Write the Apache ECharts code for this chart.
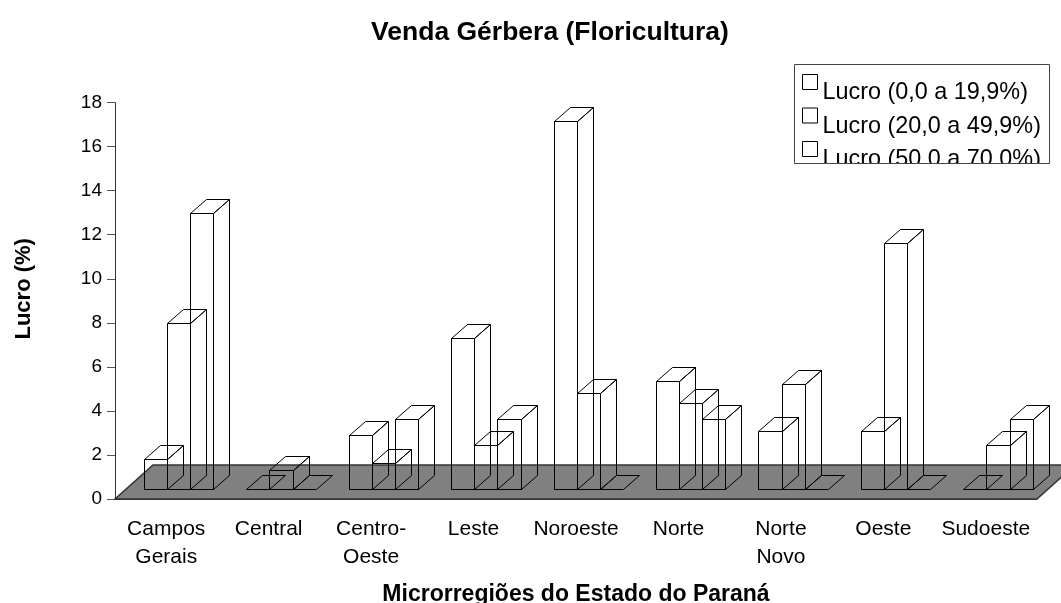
<!DOCTYPE html>
<html>
<head>
<meta charset="utf-8">
<style>html,body{margin:0;padding:0;background:#fff}#chart{width:1061px;height:603px}</style>
<script src="https://cdn.jsdelivr.net/npm/echarts@6/dist/echarts.min.js"></script>
</head>
<body>
<div id="chart"></div>
<script>
var categories = ['Campos\nGerais', 'Central', 'Centro-\nOeste', 'Leste', 'Noroeste', 'Norte', 'Norte\nNovo', 'Oeste', 'Sudoeste'];
var lucroBaixo = [1.36, 0, 2.45, 6.85, 16.73, 4.9, 2.63, 2.63, 0];
var lucroMedio = [7.53, 0.86, 1.18, 2.0, 4.35, 3.9, 4.76, 11.16, 2.0];
var lucroAlto = [12.52, 0, 3.17, 3.17, 0, 3.17, 0, 0, 3.17];
var seriesNames = ['Lucro (0,0 a 19,9%)', 'Lucro (20,0 a 49,9%)', 'Lucro (50,0 a 70,0%)'];

var fontName = '"Liberation Sans", Arial, sans-serif';

function crisp(v) {
    return Math.round(v) + 0.5;
}

function renderFloor(params, api) {
    var c = params.coordSys;
    var b = c.y + c.height;
    return {
        type: 'polygon',
        shape: {points: [[c.x, b], [c.x + c.width, b], [c.x + c.width + 38, b - 34], [c.x + 38, b - 34]]},
        style: {fill: '#808080', stroke: '#333', lineWidth: 1.5}
    };
}

function renderBar(params, api) {
    var idx = api.value(0);
    var centre = api.coord([idx, 0]);
    var top = api.coord([idx, api.value(1)]);
    var catW = api.size([1, 0])[0];
    var w = catW * 0.226;
    // seriesIndex starts at 1 because the floor is series 0
    var x0 = crisp(centre[0] + catW * 0.12 - 1.5 * w + (params.seriesIndex - 1) * w);
    var x1 = crisp(centre[0] + catW * 0.12 - 1.5 * w + params.seriesIndex * w);
    var yb = crisp(centre[1] - 10);
    var yt = crisp(top[1] - 10);
    var dx = 16, dy = -14;
    var line = {fill: 'none', stroke: '#000', lineWidth: 1};
    var faces = [
        {type: 'polygon', shape: {points: [[x0, yt], [x0 + dx, yt + dy], [x1 + dx, yt + dy], [x1, yt]]}, style: line}
    ];
    if (yb > yt) {
        faces.push({type: 'polygon', shape: {points: [[x0, yb], [x1, yb], [x1, yt], [x0, yt]]}, style: line});
        faces.push({type: 'polygon', shape: {points: [[x1, yb], [x1 + dx, yb + dy], [x1 + dx, yt + dy], [x1, yt]]}, style: line});
    }
    return {type: 'group', children: faces};
}

function barData(values) {
    var out = [];
    for (var i = 0; i < values.length; i++) {
        out.push([i, values[i]]);
    }
    return out;
}

function barSeries(name, values) {
    return {
        name: name,
        type: 'custom',
        renderItem: renderBar,
        itemStyle: {color: '#fff', borderColor: '#000', borderWidth: 1},
        encode: {x: 0, y: 1},
        data: barData(values),
        z: 3
    };
}

var option = {
    animation: false,
    backgroundColor: '#fff',
    textStyle: {fontFamily: fontName, color: '#000'},
    title: {
        text: 'Venda Gérbera (Floricultura)',
        left: 545,
        top: 14,
        textAlign: 'center',
        textStyle: {fontFamily: fontName, fontSize: 26.5, fontWeight: 'bold', color: '#000'}
    },
    legend: {
        orient: 'vertical',
        left: 802,
        top: 74,
        padding: 0,
        itemWidth: 15,
        itemHeight: 15,
        itemGap: 3,
        icon: 'rect',
        data: seriesNames,
        itemStyle: {color: '#fff', borderColor: '#000', borderWidth: 1},
        formatter: '{t|{name}}',
        textStyle: {
            rich: {
                t: {fontFamily: fontName, fontSize: 23.4, color: '#000', padding: [22, 0, 0, 0]}
            }
        }
    },
    grid: {left: 115, right: 24, top: 102.6, bottom: 104, outerBoundsMode: 'none'},
    xAxis: {
        type: 'category',
        data: categories,
        axisLine: {lineStyle: {color: '#333', width: 1}},
        axisTick: {length: 7, lineStyle: {color: '#555'}},
        axisLabel: {interval: 0, color: '#000', fontFamily: fontName, fontSize: 21, lineHeight: 28, margin: 16},
        name: 'Microrregiões do Estado do Paraná',
        nameLocation: 'middle',
        nameGap: 84,
        nameTextStyle: {fontFamily: fontName, fontSize: 23, fontWeight: 'bold', color: '#000'}
    },
    yAxis: {
        type: 'value',
        min: 0,
        max: 18,
        interval: 2,
        splitLine: {show: false},
        axisLine: {show: true, lineStyle: {color: '#333', width: 1}},
        axisTick: {show: true, length: 8, lineStyle: {color: '#555'}},
        axisLabel: {color: '#000', fontFamily: fontName, fontSize: 19, margin: 13},
        name: 'Lucro (%)',
        nameLocation: 'middle',
        nameGap: 80,
        nameTextStyle: {fontFamily: fontName, fontSize: 22, fontWeight: 'bold', color: '#000', padding: [0, 0, 0, 24]}
    },
    series: [
        {type: 'custom', renderItem: renderFloor, data: [[0, 0]], encode: {x: 0, y: 1}, silent: true, z: 1},
        barSeries(seriesNames[0], lucroBaixo),
        barSeries(seriesNames[1], lucroMedio),
        barSeries(seriesNames[2], lucroAlto)
    ],
    graphic: [
        {type: 'rect', z: 100, shape: {x: 790, y: 163.5, width: 271, height: 22}, style: {fill: '#fff'}},
        {type: 'rect', z: 101, shape: {x: 794.5, y: 64.5, width: 255, height: 99}, style: {fill: 'none', stroke: '#444', lineWidth: 1}}
    ]
};

var myChart = echarts.init(document.getElementById('chart'));
myChart.setOption(option);
</script>
</body>
</html>
